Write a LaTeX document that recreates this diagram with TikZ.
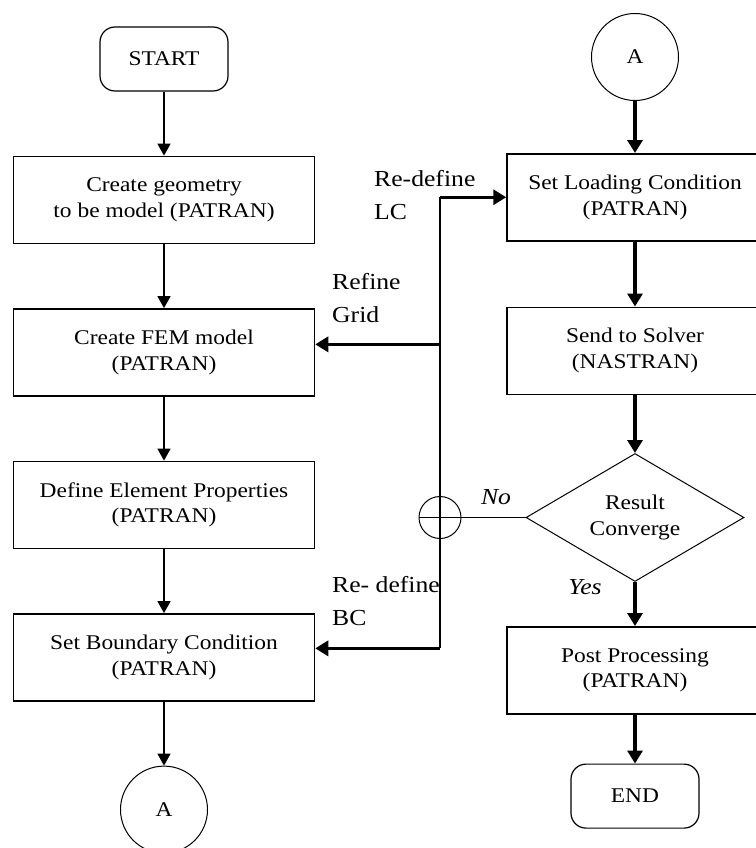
\documentclass[tikz,border=0pt]{standalone}
\usepackage{fontspec}
\setmainfont{Liberation Serif}[FakeStretch=1.12]
\usetikzlibrary{arrows.meta,positioning,shapes.geometric}

\begin{document}
\begin{tikzpicture}[
  x=1bp, y=-1bp,
  node distance=64bp,
  font=\fontsize{21}{26}\selectfont,
  proc/.style={rectangle,draw,line width=1.5bp,minimum width=301bp,minimum height=87bp,align=center},
  wproc/.style={proc,minimum width=256bp},
  term/.style={rectangle,rounded corners=15bp,draw,line width=1.2bp,minimum width=128bp,minimum height=64bp},
  conn/.style={circle,draw,line width=1bp,minimum size=87bp,inner sep=0pt},
  dec/.style={diamond,aspect=1.7,draw,line width=1bp,minimum width=218bp,minimum height=128bp,inner sep=0pt,align=center},
  sumc/.style={circle,draw,line width=1bp,minimum size=42bp,inner sep=0pt},
  line/.style={-{Triangle[length=12bp,width=13bp]},line width=1.5bp},
  bold/.style={-{Triangle[length=13bp,width=15bp]},line width=3.2bp},
  back/.style={line width=2bp},
  lbl/.style={font=\fontsize{23}{34}\selectfont,align=left,anchor=west,inner sep=0pt},
  ans/.style={font=\itshape\fontsize{23}{26}\selectfont,inner sep=0pt}
]
  \useasboundingbox (0,0) rectangle (756,848);

  % left column
  \node[term] (start) at (164,59) {START};
  \node[proc,below=of start] (geom) {Create geometry\\to be model (PATRAN)};
  \node[proc,below=of geom] (fem) {Create FEM model\\(PATRAN)};
  \node[proc,below=of fem] (props) {Define Element Properties\\(PATRAN)};
  \node[proc,below=of props] (bc) {Set Boundary Condition\\(PATRAN)};
  \node[conn,below=of bc] (conA) {A};

  % right column
  \node[conn] (conB) at (635,57) {A};
  \node[wproc,below=52bp of conB] (load) {Set Loading Condition\\(PATRAN)};
  \node[wproc,below=65bp of load] (solve) {Send to Solver\\(NASTRAN)};
  \node[dec,below=58bp of solve] (conv) {Result\\Converge};
  \node[wproc,below=44bp of conv] (post) {Post Processing\\(PATRAN)};
  \node[term,below=49bp of post] (finish) {END};

  \draw[line] (start) -- (geom);
  \draw[line] (geom) -- (fem);
  \draw[line] (fem) -- (props);
  \draw[line] (props) -- (bc);
  \draw[line] (bc) -- (conA);

  \draw[bold] (conB) -- (load);
  \draw[bold] (load) -- (solve);
  \draw[bold] (solve) -- (conv);
  \draw[bold] (conv) -- (post);
  \draw[bold] (post) -- (finish);

  % feedback loop
  \node[sumc,left=64bp of conv] (sum) {};
  \coordinate (lc) at (sum |- load.west);
  \coordinate (grid) at ([yshift=8bp]fem.east);
  \coordinate (bcin) at ([yshift=9bp]bc.east);
  \draw[back] (lc) -- (sum |- bcin);
  \draw[bold] (lc) -- (load.west);
  \draw[bold] (sum |- grid) -- (grid);
  \draw[bold] (sum |- bcin) -- (bcin);
  \draw[line width=1bp] (sum.west) -- (conv.west);

  \node[lbl] (lblLC) at (374,195) {Re-define\\LC};
  \node[lbl] (lblGrid) at (332,298) {Refine\\Grid};
  \node[lbl] (lblBC) at (332,601) {Re- define\\BC};
  \node[ans] (lblNo) at (496,497) {No};
  \node[ans] (lblYes) at (585,587) {Yes};
\end{tikzpicture}
\end{document}
